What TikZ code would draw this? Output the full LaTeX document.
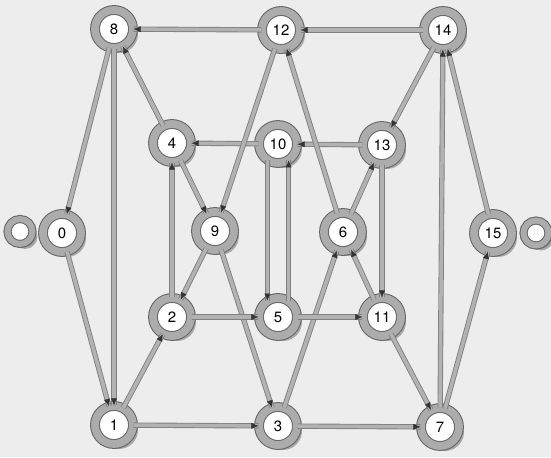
\documentclass[tikz,border=0pt]{standalone}
\usepackage{fontspec}
\setmainfont{TeX Gyre Heros}
\usetikzlibrary{arrows.meta,decorations.markings,shadows}

\begin{document}
\begin{tikzpicture}[x=1cm,y=1cm,
  st/.style={circle,draw=black!60,line width=0.6pt,double=gray!65,double distance=4.4pt,
    fill=white,minimum size=0.76cm,inner sep=0pt,font=\fontsize{8.5}{9}\selectfont,
    drop shadow={shadow xshift=0.1cm,shadow yshift=-0.1cm,fill=black!60,opacity=0.5}},
  ed/.style={preaction={draw=black!50,line width=3pt},draw=gray!60,line width=2pt,
    postaction={decorate},decoration={markings,
      mark=at position 1 with {\arrow[black!80]{Latex[length=4pt,width=3.4pt,line width=0.2pt]}}}},
  lp/.style={st,double distance=3.4pt,minimum size=0.5cm,
    drop shadow={shadow xshift=0.07cm,shadow yshift=-0.07cm,fill=black!60,opacity=0.4}}]
\fill[black!7] (0,0) rectangle (11.02,9.14);
\useasboundingbox (0,0) rectangle (11.02,9.14);

% top row
\node[st] (n8) at (2.28,8.56) {8};
\node[st] (n12) at (5.62,8.54) {12};
\node[st] (n14) at (8.86,8.54) {14};
% second row
\node[st] (n4) at (3.44,6.28) {4};
\node[st] (n10) at (5.56,6.26) {10};
\node[st] (n13) at (7.64,6.24) {13};
% middle row
\node[st] (n0) at (1.24,4.48) {0};
\node[st] (n9) at (4.30,4.52) {9};
\node[st] (n6) at (6.86,4.50) {6};
\node[st] (n15) at (9.86,4.48) {15};
% fourth row
\node[st] (n2) at (3.44,2.80) {2};
\node[st] (n5) at (5.56,2.80) {5};
\node[st] (n11) at (7.64,2.80) {11};
% bottom row
\node[st] (n1) at (2.28,0.64) {1};
\node[st] (n3) at (5.56,0.62) {3};
\node[st] (n7) at (8.80,0.60) {7};

% self loops
\node[lp] (l0) at ([xshift=-0.84cm,yshift=0.03cm]n0.center) {};
\node[lp] (l15) at ([xshift=0.86cm]n15.center) {};

% edges
\draw[ed] (n12) -- (n8);
\draw[ed] (n14) -- (n12);
\draw[ed] (n8) -- (n0);
\draw[ed] (n8) -- (n1);
\draw[ed] (n0) -- (n1);
\draw[ed] (n4) -- (n8);
\draw[ed] (n4) -- (n9);
\draw[ed] (n2) -- (n4);
\draw[ed] (n10) -- (n4);
\draw[ed] (n13) -- (n10);
\draw[ed] (n14) -- (n13);
\draw[ed] (n12) -- (n9);
\draw[ed] (n6) -- (n12);
\draw[ed] (n6) -- (n13);
\draw[ed] (n7) -- (n14);
\draw[ed] (n7) -- (n15);
\draw[ed] (n15) -- (n14);
\draw[ed] (n9) -- (n2);
\draw[ed] (n9) -- (n3);
\draw[ed] (n1) -- (n2);
\draw[ed] (n1) -- (n3);
\draw[ed] (n2) -- (n5);
\draw[ed] (n3) -- (n6);
\draw[ed] (n3) -- (n7);
\draw[ed] (n10.-123) -- (n5.123);
\draw[ed] (n5.57) -- (n10.-57);
\draw[ed] (n5) -- (n11);
\draw[ed] (n13) -- (n11);
\draw[ed] (n11) -- (n6);
\draw[ed] (n11) -- (n7);
\end{tikzpicture}
\end{document}
